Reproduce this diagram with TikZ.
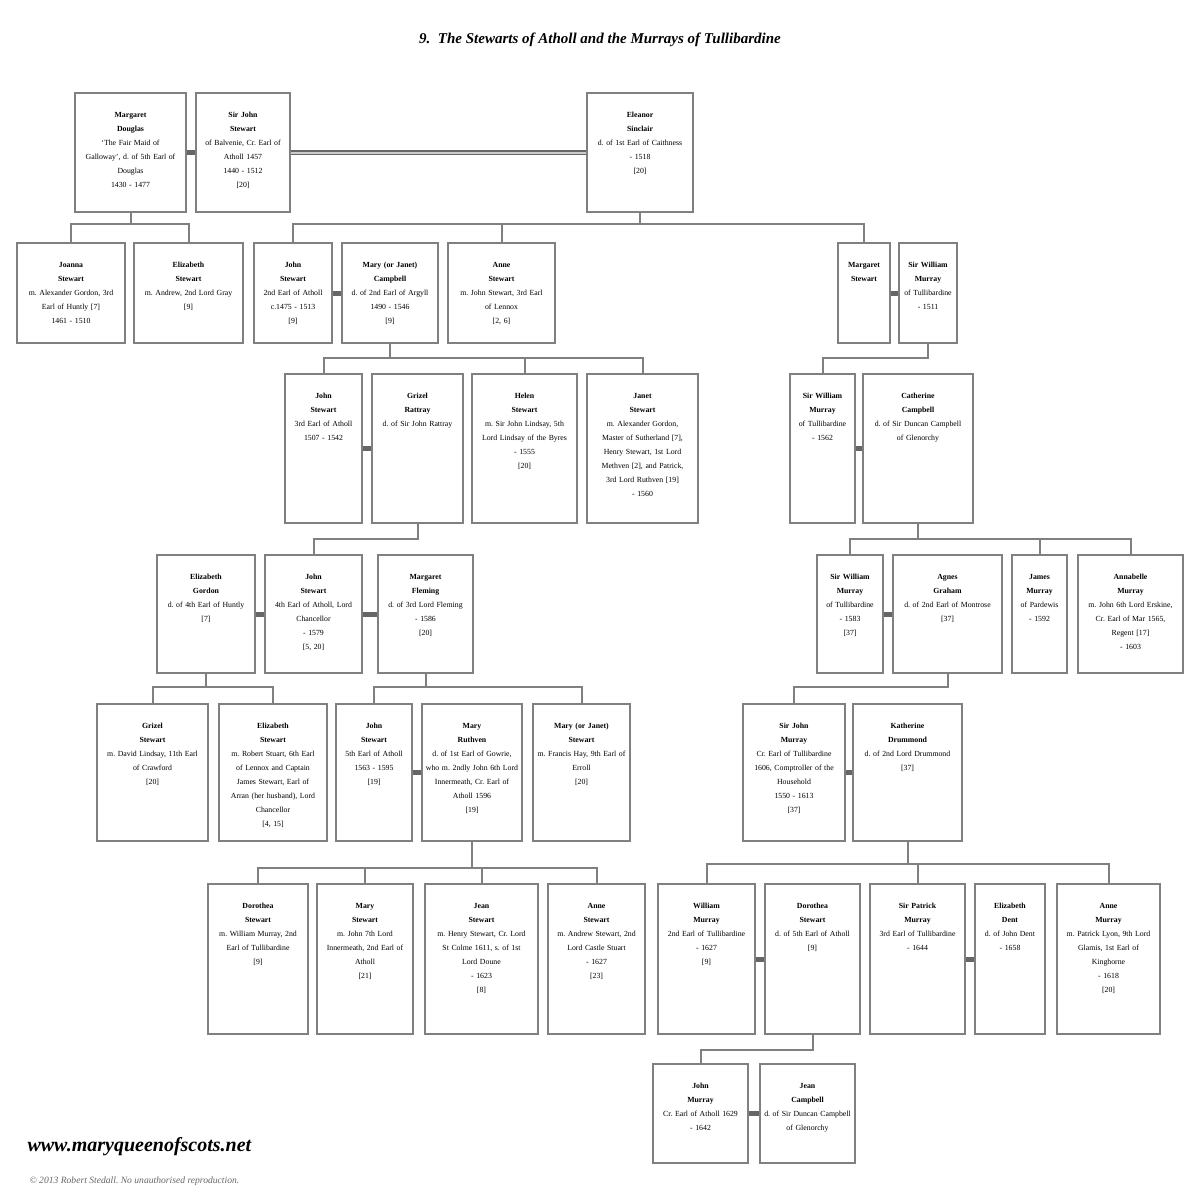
\documentclass[tikz,border=0pt]{standalone}
\usepackage{fontspec}
\setmainfont{Liberation Serif}
\usetikzlibrary{calc}
\frenchspacing
\newcommand{\who}[2]{\textbf{#1}\\\textbf{#2}}
\begin{document}
\begin{tikzpicture}[x=1pt,y=-1pt,
  person/.style 2 args={draw=black!50, line width=2.4pt, fill=white, anchor=north, align=center,
    inner xsep=2pt, inner ysep=8pt, text height=16pt, text width=#1, text depth=#2,
    font=\fontsize{7.8}{14}\selectfont},
  kin/.style={draw=black!50, line width=2pt},
  wed/.style={draw=black!60, line width=5pt},
  wedd/.style={draw=black!60, line width=1.6pt, double=black!20, double distance=1.6pt}]
\useasboundingbox (0,0) rectangle (1200,1200);
\node (title) at (600,40) {\fontsize{15}{18}\selectfont\bfseries\itshape 9.\ \ The Stewarts of Atholl and the Murrays of Tullibardine};
\node [person={107pt}{87pt}] (mdoug) at (130.5,92) {\who{Margaret}{Douglas}\\`The Fair Maid of\\Galloway', d. of 5th Earl of\\Douglas\\1430 - 1477};
\node [person={90pt}{87pt}] (jstew) at (243,92) {\who{Sir John}{Stewart}\\of Balvenie, Cr. Earl of\\Atholl 1457\\1440 - 1512\\{[20]}};
\node [person={102pt}{87pt}] (esinc) at (640,92) {\who{Eleanor}{Sinclair}\\d. of 1st Earl of Caithness\\- 1518\\{[20]}};
\node [person={104pt}{68pt}] (joanna) at (71,242) {\who{Joanna}{Stewart}\\m. Alexander Gordon, 3rd\\Earl of Huntly [7]\\1461 - 1510};
\node [person={105pt}{68pt}] (eliz1) at (188.5,242) {\who{Elizabeth}{Stewart}\\m. Andrew, 2nd Lord Gray\\{[9]}};
\node [person={74pt}{68pt}] (john2) at (293,242) {\who{John}{Stewart}\\2nd Earl of Atholl\\c.1475 - 1513\\{[9]}};
\node [person={92pt}{68pt}] (mary) at (390,242) {\who{Mary (or Janet)}{Campbell}\\d. of 2nd Earl of Argyll\\1490 - 1546\\{[9]}};
\node [person={103pt}{68pt}] (anne1) at (501.5,242) {\who{Anne}{Stewart}\\m. John Stewart, 3rd Earl\\of Lennox\\{[2, 6]}};
\node [person={48pt}{68pt}] (margs) at (864,242) {\who{Margaret}{Stewart}};
\node [person={54pt}{68pt}] (swill1) at (928,242) {\who{Sir William}{Murray}\\of Tullibardine\\- 1511};
\node [person={73pt}{117pt}] (john3) at (323.5,373) {\who{John}{Stewart}\\3rd Earl of Atholl\\1507 - 1542};
\node [person={87pt}{117pt}] (grizr) at (417.5,373) {\who{Grizel}{Rattray}\\d. of Sir John Rattray};
\node [person={101pt}{117pt}] (helen) at (524.5,373) {\who{Helen}{Stewart}\\m. Sir John Lindsay, 5th\\Lord Lindsay of the Byres\\- 1555\\{[20]}};
\node [person={107pt}{117pt}] (janet) at (642.5,373) {\who{Janet}{Stewart}\\m. Alexander Gordon,\\Master of Sutherland [7],\\Henry Stewart, 1st Lord\\Methven [2], and Patrick,\\3rd Lord Ruthven [19]\\- 1560};
\node [person={61pt}{117pt}] (swill2) at (822.5,373) {\who{Sir William}{Murray}\\of Tullibardine\\- 1562};
\node [person={106pt}{117pt}] (catc) at (918,373) {\who{Catherine}{Campbell}\\d. of Sir Duncan Campbell\\of Glenorchy};
\node [person={94pt}{86pt}] (egord) at (206,554) {\who{Elizabeth}{Gordon}\\d. of 4th Earl of Huntly\\{[7]}};
\node [person={93pt}{86pt}] (john4) at (313.5,554) {\who{John}{Stewart}\\4th Earl of Atholl, Lord\\Chancellor\\- 1579\\{[5, 20]}};
\node [person={91pt}{86pt}] (mflem) at (425.5,554) {\who{Margaret}{Fleming}\\d. of 3rd Lord Fleming\\- 1586\\{[20]}};
\node [person={62pt}{86pt}] (swill3) at (850,554) {\who{Sir William}{Murray}\\of Tullibardine\\- 1583\\{[37]}};
\node [person={105pt}{86pt}] (agnes) at (947.5,554) {\who{Agnes}{Graham}\\d. of 2nd Earl of Montrose\\{[37]}};
\node [person={51pt}{86pt}] (james) at (1039.5,554) {\who{James}{Murray}\\of Pardewis\\- 1592};
\node [person={101pt}{86pt}] (annab) at (1130.5,554) {\who{Annabelle}{Murray}\\m. John 6th Lord Erskine,\\Cr. Earl of Mar 1565,\\Regent [17]\\- 1603};
\node [person={107pt}{105pt}] (grizs) at (152.5,703) {\who{Grizel}{Stewart}\\m. David Lindsay, 11th Earl\\of Crawford\\{[20]}};
\node [person={104pt}{105pt}] (eliz2) at (273,703) {\who{Elizabeth}{Stewart}\\m. Robert Stuart, 6th Earl\\of Lennox and Captain\\James Stewart, Earl of\\Arran (her husband), Lord\\Chancellor\\{[4, 15]}};
\node [person={72pt}{105pt}] (john5) at (374,703) {\who{John}{Stewart}\\5th Earl of Atholl\\1563 - 1595\\{[19]}};
\node [person={96pt}{105pt}] (maryr) at (472,703) {\who{Mary}{Ruthven}\\d. of 1st Earl of Gowrie,\\who m. 2ndly John 6th Lord\\Innermeath, Cr. Earl of\\Atholl 1596\\{[19]}};
\node [person={93pt}{105pt}] (maryj) at (581.5,703) {\who{Mary (or Janet)}{Stewart}\\m. Francis Hay, 9th Earl of\\Erroll\\{[20]}};
\node [person={98pt}{105pt}] (sjohn) at (794,703) {\who{Sir John}{Murray}\\Cr. Earl of Tullibardine\\1606, Comptroller of the\\Household\\1550 - 1613\\{[37]}};
\node [person={105pt}{105pt}] (kathd) at (907.5,703) {\who{Katherine}{Drummond}\\d. of 2nd Lord Drummond\\{[37]}};
\node [person={96pt}{118pt}] (doro1) at (258,883) {\who{Dorothea}{Stewart}\\m. William Murray, 2nd\\Earl of Tullibardine\\{[9]}};
\node [person={92pt}{118pt}] (marys) at (365,883) {\who{Mary}{Stewart}\\m. John 7th Lord\\Innermeath, 2nd Earl of\\Atholl\\{[21]}};
\node [person={109pt}{118pt}] (jean) at (481.5,883) {\who{Jean}{Stewart}\\m. Henry Stewart, Cr. Lord\\St Colme 1611, s. of 1st\\Lord Doune\\- 1623\\{[8]}};
\node [person={93pt}{118pt}] (annes) at (596.5,883) {\who{Anne}{Stewart}\\m. Andrew Stewart, 2nd\\Lord Castle Stuart\\- 1627\\{[23]}};
\node [person={93pt}{118pt}] (wmur) at (706.5,883) {\who{William}{Murray}\\2nd Earl of Tullibardine\\- 1627\\{[9]}};
\node [person={91pt}{118pt}] (doro2) at (812.5,883) {\who{Dorothea}{Stewart}\\d. of 5th Earl of Atholl\\{[9]}};
\node [person={91pt}{118pt}] (spat) at (917.5,883) {\who{Sir Patrick}{Murray}\\3rd Earl of Tullibardine\\- 1644};
\node [person={66pt}{118pt}] (elizd) at (1010,883) {\who{Elizabeth}{Dent}\\d. of John Dent\\- 1658};
\node [person={99pt}{118pt}] (annem) at (1108.5,883) {\who{Anne}{Murray}\\m. Patrick Lyon, 9th Lord\\Glamis, 1st Earl of\\Kinghorne\\- 1618\\{[20]}};
\node [person={91pt}{67pt}] (johnm) at (700.5,1063) {\who{John}{Murray}\\Cr. Earl of Atholl 1629\\- 1642};
\node [person={91pt}{67pt}] (jeanc) at (807.5,1063) {\who{Jean}{Campbell}\\d. of Sir Duncan Campbell\\of Glenorchy};
\node [anchor=west] (site) at (24,1147) {\fontsize{20}{22}\selectfont\bfseries\itshape www.maryqueenofscots.net};
\node [anchor=west, text=black!60] (copy) at (26,1181) {\fontsize{9.6}{11}\selectfont\itshape © 2013 Robert Stedall. No unauthorised reproduction.};
\draw [wed] (mdoug) -- (jstew);
\draw [wedd] (jstew) -- (esinc);
\draw [wed] (john2) -- (mary);
\draw [wed] (margs) -- (swill1);
\draw [wed] (john3) -- (grizr);
\draw [wed] (swill2) -- (catc);
\draw [wed] (egord) -- (john4);
\draw [wed] (john4) -- (mflem);
\draw [wed] (swill3) -- (agnes);
\draw [wed] (john5) -- (maryr);
\draw [wed] (sjohn) -- (kathd);
\draw [wed] (wmur) -- (doro2);
\draw [wed] (spat) -- (elizd);
\draw [wed] (johnm) -- (jeanc);
\draw [kin] (mdoug.south) -- ++(0,11) coordinate (j1);
\draw [kin] (joanna.north) |- (j1) -| (eliz1.north);
\draw [kin] (esinc.south) -- ++(0,11) coordinate (j2);
\draw [kin] (john2.north) |- (j2) -| (margs.north);
\draw [kin] (anne1.north) -- (anne1.north |- j2);
\draw [kin] (mary.south) -- ++(0,14) coordinate (j3);
\draw [kin] (john3.north) |- (j3) -| (janet.north);
\draw [kin] (helen.north) -- (helen.north |- j3);
\draw [kin] (swill1.south) -- ++(0,14) -| (swill2.north);
\draw [kin] (grizr.south) -- ++(0,15) -| (john4.north);
\draw [kin] (catc.south) -- ++(0,15) coordinate (j4);
\draw [kin] (swill3.north) |- (j4) -| (annab.north);
\draw [kin] (james.north) -- (james.north |- j4);
\draw [kin] (egord.south) -- ++(0,13) coordinate (j5);
\draw [kin] (grizs.north) |- (j5) -| (eliz2.north);
\draw [kin] (mflem.south) -- ++(0,13) coordinate (j6);
\draw [kin] (john5.north) |- (j6) -| (maryj.north);
\draw [kin] (agnes.south) -- ++(0,13) -| (sjohn.north);
\draw [kin] (maryr.south) -- ++(0,26) coordinate (j7);
\draw [kin] (doro1.north) |- (j7) -| (annes.north);
\draw [kin] (marys.north) -- (marys.north |- j7);
\draw [kin] (jean.north) -- (jean.north |- j7);
\draw [kin] (kathd.south) -- ++(0,22) coordinate (j8);
\draw [kin] (wmur.north) |- (j8) -| (annem.north);
\draw [kin] (spat.north) -- (spat.north |- j8);
\draw [kin] (doro2.south) -- ++(0,15) -| (johnm.north);
\end{tikzpicture}
\end{document}
